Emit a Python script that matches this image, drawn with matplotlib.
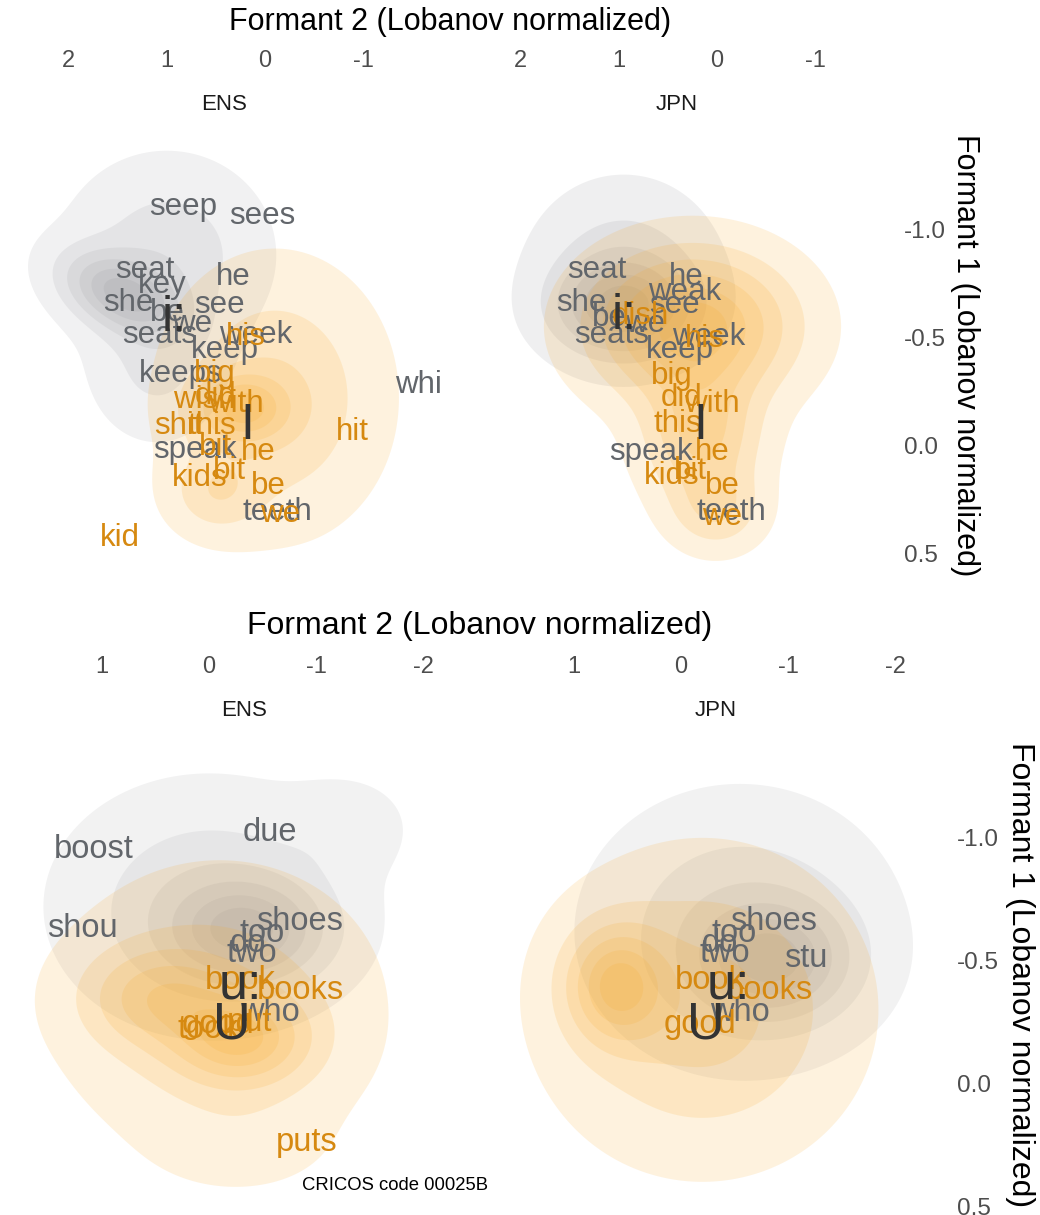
import numpy as np
import matplotlib.pyplot as plt

plt.rcParams['font.family'] = ['Liberation Sans', 'DejaVu Sans']

W, H = 1040, 1215

# ---- word labels: (F2, F1) Lobanov normalized ----
# top row: /i:/ (grey) vs /I/ (orange)
ens_i_words = ['seep', 'sees', 'seat', 'key', 'he', 'she', 'be', 'see', 'we', 'seats',
               'week', 'keep', 'keeps', 'whi', 'speak', 'teeth']
ens_i_f2 = [0.83, 0.03, 1.22, 1.05, 0.32, 1.39, 0.99, 0.46, 0.74, 1.07,
            0.10, 0.41, 0.86, -1.56, 0.71, -0.13]
ens_i_f1 = [-1.10, -1.06, -0.81, -0.74, -0.78, -0.66, -0.61, -0.65, -0.56, -0.51,
            -0.51, -0.44, -0.33, -0.28, 0.02, 0.31]

ens_I_words = ['his', 'big', 'did', 'wish', 'with', 'shit', 'this', 'bit', 'he', 'kids',
               'bit', 'be', 'we', 'hit', 'kid']
ens_I_f2 = [0.20, 0.51, 0.50, 0.62, 0.30, 0.88, 0.54, 0.50, 0.07, 0.66,
            0.36, -0.03, -0.15, -0.89, 1.48]
ens_I_f1 = [-0.50, -0.33, -0.23, -0.21, -0.19, -0.09, -0.09, 0.01, 0.03, 0.15,
            0.12, 0.19, 0.32, -0.06, 0.43]

jpn_i_words = ['seat', 'he', 'weak', 'she', 'be', 'see', 'we', 'seats', 'week', 'keep',
               'speak', 'teeth']
jpn_i_f2 = [1.22, 0.31, 0.33, 1.38, 1.09, 0.43, 0.73, 1.07, 0.09, 0.38, 0.67, -0.15]
jpn_i_f1 = [-0.81, -0.78, -0.71, -0.66, -0.59, -0.65, -0.56, -0.51, -0.50, -0.44, 0.03, 0.31]

jpn_I_words = ['dish', 'his', 'big', 'did', 'with', 'this', 'he', 'kids', 'bit', 'be', 'we']
jpn_I_f2 = [0.78, 0.12, 0.46, 0.36, 0.05, 0.40, 0.05, 0.46, 0.27, -0.05, -0.05]
jpn_I_f1 = [-0.60, -0.49, -0.32, -0.22, -0.19, -0.10, 0.03, 0.14, 0.12, 0.19, 0.33]

# bottom row: /u:/ (grey) vs /U/ (orange)
ens_u_words = ['boost', 'due', 'shou', 'shoes', 'too', 'do', 'two', 'who']
ens_u_f2 = [1.08, -0.57, 1.18, -0.85, -0.50, -0.36, -0.40, -0.57]
ens_u_f1 = [-0.95, -1.02, -0.63, -0.66, -0.61, -0.57, -0.53, -0.29]

ens_U_words = ['book', 'books', 'took', 'good', 'put', 'puts']
ens_U_f2 = [-0.29, -0.85, 0.01, -0.08, -0.38, -0.91]
ens_U_f1 = [-0.42, -0.38, -0.22, -0.24, -0.25, 0.24]

jpn_u_words = ['shoes', 'too', 'do', 'two', 'stu', 'who']
jpn_u_f2 = [-0.86, -0.50, -0.36, -0.41, -1.17, -0.55]
jpn_u_f1 = [-0.66, -0.61, -0.57, -0.53, -0.51, -0.29]

jpn_U_words = ['book', 'books', 'good']
jpn_U_f2 = [-0.27, -0.83, -0.18]
jpn_U_f1 = [-0.42, -0.38, -0.24]

# vowel means (label, F2, F1)
ens_top_vowels = [('i:', 0.92, -0.59), ('I', 0.18, -0.09)]
jpn_top_vowels = [('i:', 0.94, -0.60), ('I', 0.17, -0.09)]
ens_bot_vowels = [('u:', -0.29, -0.40), ('U', -0.21, -0.24)]
jpn_bot_vowels = [('u:', -0.44, -0.40), ('U', -0.23, -0.24)]

# density shapes estimated from the chart: (F2 centre, F1 centre, sd F2, sd F1, rho, weight)
ens_i_density = [(1.45, -0.70, 0.38, 0.12, -0.4, 1.0), (1.00, -0.88, 0.60, 0.26, 0.0, 0.35),
                 (1.10, -0.35, 0.40, 0.20, 0.0, 0.25)]
ens_I_density = [(0.25, -0.17, 0.30, 0.10, 0.0, 1.0), (-0.10, -0.22, 0.64, 0.35, 0.0, 0.5),
                 (0.50, 0.22, 0.30, 0.12, 0.0, 0.35)]
jpn_i_density = [(0.95, -0.64, 0.42, 0.13, 0.0, 1.0), (0.95, -0.78, 0.55, 0.25, 0.0, 0.4)]
jpn_I_density = [(0.25, -0.55, 0.62, 0.21, 0.0, 1.0), (0.15, -0.05, 0.37, 0.20, 0.0, 0.55),
                 (0.00, 0.30, 0.30, 0.12, 0.0, 0.3)]
ens_u_density = [(-0.35, -0.62, 0.45, 0.13, 0.0, 1.0), (0.00, -0.72, 0.80, 0.28, 0.0, 0.45),
                 (-1.30, -1.05, 0.35, 0.12, 0.0, 0.15)]
ens_U_density = [(-0.30, -0.18, 0.40, 0.12, 0.0, 1.0), (0.45, -0.35, 0.45, 0.13, 0.0, 0.7),
                 (-0.10, -0.30, 0.85, 0.33, 0.0, 0.4), (-0.30, 0.25, 0.50, 0.12, 0.0, 0.1)]
jpn_u_density = [(-0.85, -0.50, 0.45, 0.15, 0.0, 1.0), (-0.55, -0.62, 0.80, 0.31, 0.0, 0.45)]
jpn_U_density = [(0.60, -0.40, 0.30, 0.15, 0.0, 1.0), (-0.20, -0.30, 0.80, 0.34, 0.0, 0.55)]

levels = [0.05, 0.18, 0.33, 0.50, 0.68, 0.85]

GREY_TXT = '#62666b'
ORANGE_TXT = '#d68910'
GREY_FILL = '#808289'
ORANGE_FILL = '#f9a825'


def density(X, Y, comps):
    Z = np.zeros_like(X)
    for cx, cy, sx, sy, rho, w in comps:
        u = (X - cx) / sx
        v = (Y - cy) / sy
        Z += w * np.exp(-(u * u - 2 * rho * u * v + v * v) / (2 * (1 - rho ** 2)))
    return Z / Z.max()


def px_box(x0, x1, y0, y1):
    return [x0 / W, 1 - y1 / H, (x1 - x0) / W, (y1 - y0) / H]


def panel(box, xlim, ylim, xticks, dens, words, vowels, strip, right_axis, fs_word):
    ax = fig.add_axes(px_box(*box))
    ax.set_xlim(*xlim)
    ax.set_ylim(*ylim)
    X, Y = np.meshgrid(np.linspace(xlim[1], xlim[0], 300), np.linspace(ylim[1], ylim[0], 300))
    for comps, col, a in dens:
        Z = density(X, Y, comps)
        for lev in levels:
            ax.contourf(X, Y, Z, levels=[lev, 2], colors=[col], alpha=a, antialiased=True)
    for (wl, xs, ys), col in words:
        for w, x, y in zip(wl, xs, ys):
            ax.text(x, y, w, color=col, fontsize=fs_word, ha='center', va='center')
    for lab, x, y in vowels:
        ax.text(x, y, lab, color='#333333', fontsize=fs_word * 1.6, ha='center', va='center')
    for s in ax.spines.values():
        s.set_visible(False)
    ax.xaxis.tick_top()
    ax.set_xticks(xticks)
    ax.set_xticklabels([f'{t:g}' for t in xticks])
    ax.tick_params(axis='x', length=0, pad=35, labelsize=17, labelcolor='#4d4d4d')
    yt = [-1.0, -0.5, 0.0, 0.5]
    if right_axis:
        ax.yaxis.tick_right()
        ax.set_yticks(yt)
        ax.set_yticklabels([f'{t:.1f}' for t in yt])
        ax.tick_params(axis='y', length=0, pad=6, labelsize=17.5, labelcolor='#4d4d4d')
    else:
        ax.set_yticks([])
    ax.text(0.5, 1 + 17 / (box[3] - box[2]), strip, transform=ax.transAxes,
            ha='center', va='center', fontsize=16, color='#1a1a1a')
    ax.patch.set_alpha(0)
    return ax


fig = plt.figure(figsize=(W / 100, H / 100), dpi=100)

top_xlim = (2.65, -1.82)
top_ylim = (0.60, -1.50)
panel((4.5, 444, 121, 575), top_xlim, top_ylim, [2, 1, 0, -1],
      [(ens_i_density, GREY_FILL, 0.11), (ens_I_density, ORANGE_FILL, 0.15)],
      [((ens_i_words, ens_i_f2, ens_i_f1), GREY_TXT), ((ens_I_words, ens_I_f2, ens_I_f1), ORANGE_TXT)],
      ens_top_vowels, 'ENS', False, 22.5)
panel((456.5, 896, 121, 575), top_xlim, top_ylim, [2, 1, 0, -1],
      [(jpn_i_density, GREY_FILL, 0.12), (jpn_I_density, ORANGE_FILL, 0.15)],
      [((jpn_i_words, jpn_i_f2, jpn_i_f1), GREY_TXT), ((jpn_I_words, jpn_I_f2, jpn_I_f1), ORANGE_TXT)],
      jpn_top_vowels, 'JPN', True, 22.5)

bot_xlim = (1.85, -2.50)
bot_ylim = (0.53, -1.45)
panel((11, 476.5, 727, 1214), bot_xlim, bot_ylim, [1, 0, -1, -2],
      [(ens_u_density, GREY_FILL, 0.10), (ens_U_density, ORANGE_FILL, 0.15)],
      [((ens_u_words, ens_u_f2, ens_u_f1), GREY_TXT), ((ens_U_words, ens_U_f2, ens_U_f1), ORANGE_TXT)],
      ens_bot_vowels, 'ENS', False, 23.5)
panel((483, 948.5, 727, 1214), bot_xlim, bot_ylim, [1, 0, -1, -2],
      [(jpn_u_density, GREY_FILL, 0.10), (jpn_U_density, ORANGE_FILL, 0.15)],
      [((jpn_u_words, jpn_u_f2, jpn_u_f1), GREY_TXT), ((jpn_U_words, jpn_U_f2, jpn_U_f1), ORANGE_TXT)],
      jpn_bot_vowels, 'JPN', True, 23.5)

fig.text(450 / W, 1 - 22 / H, 'Formant 2 (Lobanov normalized)', ha='center', va='center', fontsize=22)
fig.text(480 / W, 1 - 626 / H, 'Formant 2 (Lobanov normalized)', ha='center', va='center', fontsize=23)
fig.text(965 / W, 1 - 355 / H, 'Formant 1 (Lobanov normalized)', ha='center', va='center',
         fontsize=22, rotation=-90)
fig.text(1020 / W, 1 - 975 / H, 'Formant 1 (Lobanov normalized)', ha='center', va='center',
         fontsize=23, rotation=-90)
fig.text(395 / W, 1 - 1185 / H, 'CRICOS code 00025B', ha='center', va='center', fontsize=13.3)

fig.savefig('out.png', dpi=100)
